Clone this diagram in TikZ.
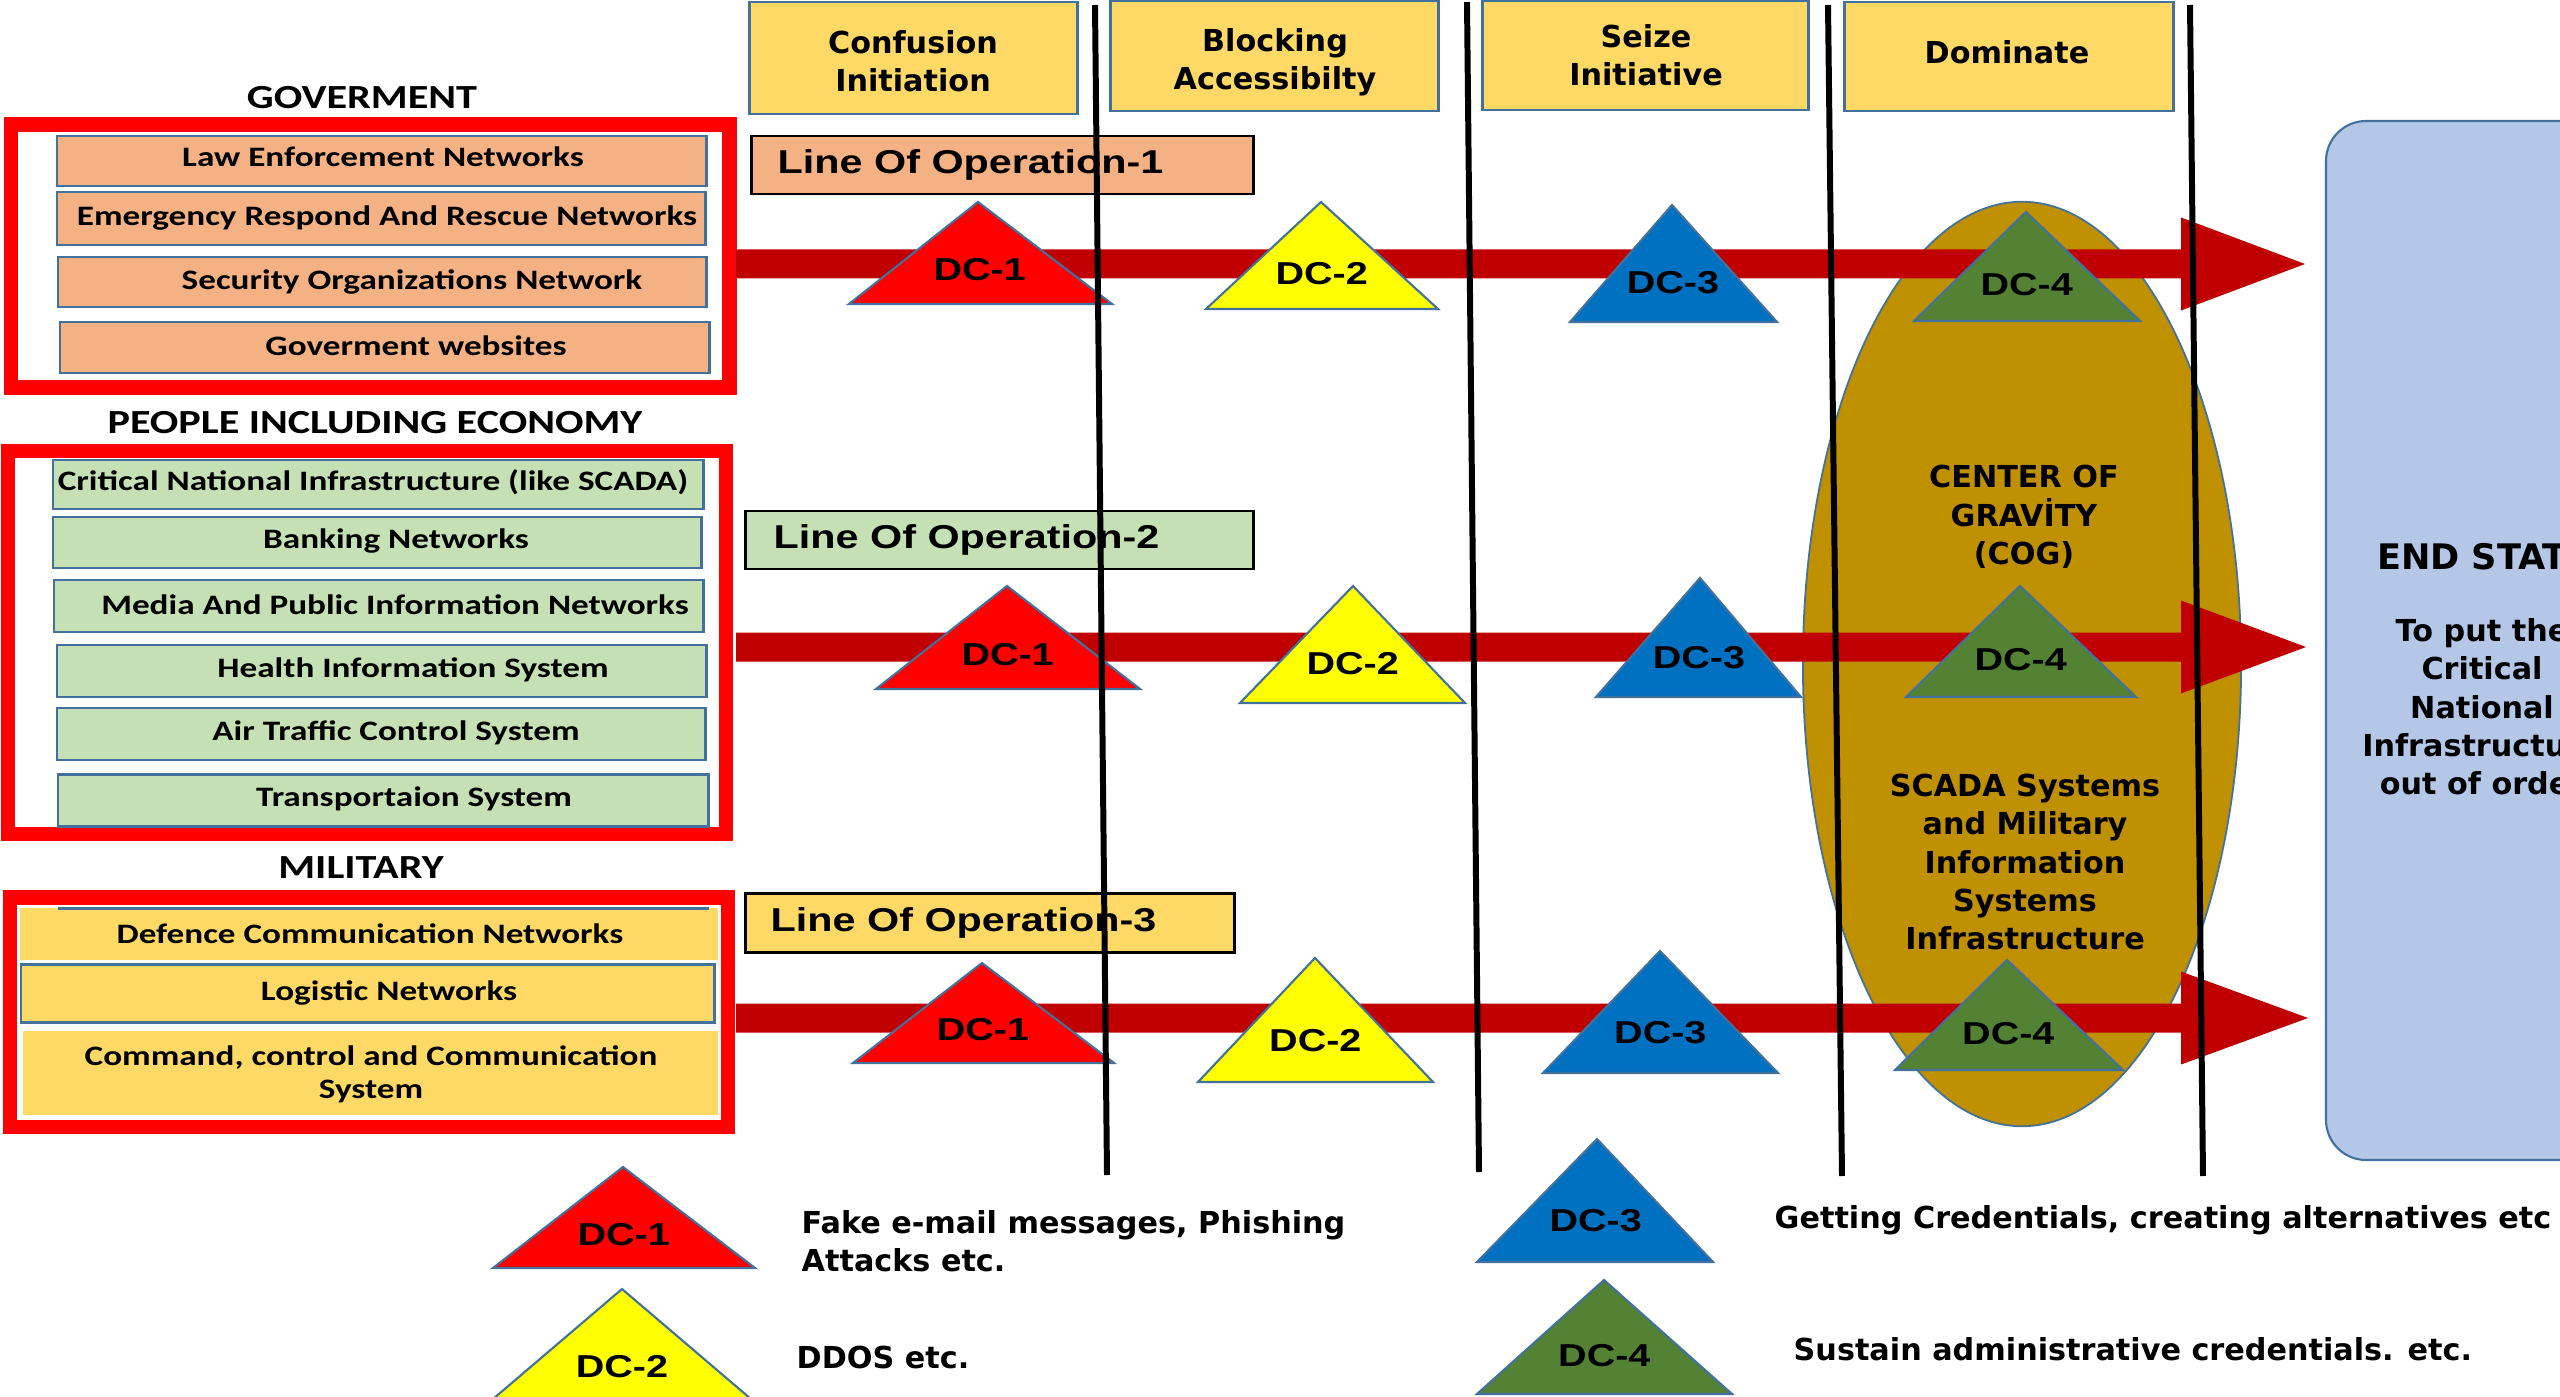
\documentclass[tikz,border=0pt]{standalone}
\usepackage{fontspec}
\setmainfont{DejaVu Sans}
\newfontfamily\calfont[FakeStretch=1.25]{Carlito}
\newfontfamily\arifont[FakeStretch=1.25]{Liberation Sans}
\usetikzlibrary{shapes.geometric}
\definecolor{orng}{HTML}{F4B183}
\definecolor{grn}{HTML}{C5E0B4}
\definecolor{ylw}{HTML}{FFD966}
\definecolor{bblue}{HTML}{41719C}
\definecolor{arrowred}{HTML}{C00000}
\definecolor{dcred}{HTML}{FF0000}
\definecolor{dcyellow}{HTML}{FFFF00}
\definecolor{dcblue}{HTML}{0070C0}
\definecolor{dcgreen}{HTML}{548235}
\definecolor{cog}{HTML}{BF9000}
\definecolor{endblue}{HTML}{B4C7E7}
\tikzset{
  netbox/.style={draw=bblue, line width=0.85pt, inner sep=0pt, outer sep=0pt},
  plainbox/.style={inner sep=0pt, outer sep=0pt},
  redframe/.style={draw=dcred, line width=4pt},
  phasebox/.style={draw=bblue, line width=0.85pt, fill=ylw, inner sep=0pt, outer sep=0pt},
  loobox/.style={draw=black, line width=0.85pt, inner sep=0pt, outer sep=0pt},
  tri/.style={draw=bblue, line width=0.6pt, line join=miter},
  vline/.style={draw=black, line width=1.7pt},
  nettext/.style={font=\calfont\bfseries\fontsize{8}{9.4}\selectfont, inner sep=0pt, align=center},
  grouptext/.style={font=\calfont\bfseries\fontsize{9.6}{11}\selectfont, inner sep=0pt},
  boldtext/.style={font=\bfseries\fontsize{8.6}{10.9}\selectfont, inner sep=0pt, align=center},
  legtext/.style={font=\bfseries\fontsize{8.6}{10.9}\selectfont, inner sep=0pt, align=left, anchor=west},
  lootext/.style={font=\arifont\bfseries\fontsize{9.4}{11}\selectfont, inner sep=0pt, anchor=west},
  dclabel/.style={font=\arifont\bfseries\fontsize{9}{10}\selectfont, inner sep=0pt},
}
% name, x1, y1, x2, y2, style
\newcommand\rectnode[6]{%
  \node[#6, minimum width={(#4-#2)*0.01cm}, minimum height={(#5-#3)*0.01cm}] (#1) at ({(#2+#4)/2},{(#3+#5)/2}) {};}
% name, apex x, apex y, base y, left x, right x, colour, label
\newcommand\dctri[8]{%
  \draw[tri, fill=#7] (#2,#3) -- (#6,#4) -- (#5,#4) -- cycle;
  \node[dclabel] (#1) at ({(#2+#5+#6)/3},{(#3+2*#4)/3}) {#8};}
% name, centre y, tip x
\newcommand\oparrow[3]{%
  \coordinate (#1s) at (736,#2);
  \coordinate (#1e) at (#3,#2);
  \fill[arrowred] (736,#2-14.5) -- (2181,#2-14.5) -- (2181,#2-46.5) -- (#3,#2)
     -- (2181,#2+46.5) -- (2181,#2+14.5) -- (736,#2+14.5) -- cycle;}
\begin{document}
\begin{tikzpicture}[x=0.01cm,y=-0.01cm]
\useasboundingbox (0,0) rectangle (2560,1397);
\clip (0,0) rectangle (2560,1397);
\fill[white] (0,0) rectangle (2560,1397);

% ---------- left column ----------
\node[grouptext] (hgov) at (362,98) {GOVERMENT};
\draw[redframe] (11,124.5) rectangle (729.5,387.5);
\rectnode{law}{57}{136}{706}{186}{netbox, fill=orng}
\rectnode{emr}{57}{192}{705}{245}{netbox, fill=orng}
\rectnode{sec}{58}{257}{706}{307}{netbox, fill=orng}
\rectnode{gws}{60}{322}{709}{373}{netbox, fill=orng}
\node[nettext] at (383,157) {Law Enforcement Networks};
\node[nettext] at (387,218) {Emergency Respond And Rescue Networks};
\node[nettext] at (412,282) {Security Organizations  Network};
\node[nettext] at (416,346) {Goverment websites};

\node[grouptext] (hppl) at (375,423) {PEOPLE INCLUDING ECONOMY};
\draw[redframe] (8,451) rectangle (726,834);
\rectnode{cni}{53}{460}{703}{509}{netbox, fill=grn}
\rectnode{bnk}{53}{517}{701}{568}{netbox, fill=grn}
\rectnode{med}{54}{580}{703}{632}{netbox, fill=grn}
\rectnode{hlt}{57}{645}{706}{697}{netbox, fill=grn}
\rectnode{atc}{57}{708}{705}{760}{netbox, fill=grn}
\rectnode{trn}{58}{774}{708}{826}{netbox, fill=grn}
\node[nettext] at (373,482) {Critical National  Infrastructure (like SCADA)};
\node[nettext] at (396,541) {Banking Networks};
\node[nettext] at (395,605) {Media And Public  Information Networks};
\node[nettext] at (413,670) {Health Information System};
\node[nettext] at (396,733) {Air Traffic Control System};
\node[nettext] at (414,799) {Transportaion System};

\node[grouptext] (hmil) at (361,868) {MILITARY};
\draw[redframe] (10,897.5) rectangle (728,1127);
\rectnode{dcn}{20}{908}{718}{960}{plainbox, fill=ylw}
\draw[bblue, line width=0.85pt] (58,908) -- (709,908);
\rectnode{lgn}{21}{964}{714}{1022}{netbox, fill=ylw}
\rectnode{ccs}{23}{1031}{718}{1115}{plainbox, fill=ylw}
\node[nettext] at (370,934) {Defence Communication Networks};
\node[nettext] at (389,993) {Logistic Networks};
\node[nettext] at (371,1074) {Command, control and  Communication\\System};

% ---------- phase boxes ----------
\rectnode{ph1}{749}{2}{1077}{114}{phasebox}
\rectnode{ph2}{1110}{1}{1438}{111}{phasebox}
\rectnode{ph3}{1482}{1}{1808}{110}{phasebox}
\rectnode{ph4}{1844}{2}{2173}{111}{phasebox}
\node[boldtext] at (913,61) {Confusion\\Initiation};
\node[boldtext] at (1275,62) {Blocking\\Accessibilty};
\node[boldtext] at (1646,55) {Seize\\Initiative};
\node[boldtext] at (2007,52) {Dominate};

% ---------- lines of operation ----------
\rectnode{loo1}{751}{136}{1253}{194}{loobox, fill=orng}
\rectnode{loo2}{745}{511}{1253}{569}{loobox, fill=grn}
\rectnode{loo3}{745}{893}{1234}{952}{loobox, fill=ylw}
\node[lootext] at (777,165) {Line Of Operation-1};
\node[lootext] at (773,540) {Line Of Operation-2};
\node[lootext] at (770,923) {Line Of Operation-3};

% ---------- centre of gravity ----------
\node[ellipse, draw=bblue, fill=cog, line width=0.5pt, inner sep=0pt,
      minimum width=4.38cm, minimum height=9.24cm] (cogell) at (2022,664) {};

% ---------- end state ----------
\rectnode{endst}{2326}{121}{2720}{1160}{draw=bblue, line width=0.6pt, fill=endblue, rounded corners=0.4cm}
\node[font=\bfseries\fontsize{10}{12}\selectfont, inner sep=0pt] at (2484,557) {END STATE};
\node[boldtext] at (2482,707) {To put the\\Critical\\National\\Infrastructure\\out of order};

% ---------- arrows ----------
\oparrow{a1}{264}{2305}
\oparrow{a2}{647}{2306}
\oparrow{a3}{1018}{2308}

% ---------- decisive condition triangles ----------
\dctri{r1c1}{978}{202}{304}{849}{1112}{dcred}{DC-1}
\dctri{r1c2}{1321}{202}{309}{1206}{1438}{dcyellow}{DC-2}
\dctri{r1c3}{1672}{205}{322}{1570}{1777}{dcblue}{DC-3}
\dctri{r1c4}{2026}{212}{321}{1914}{2140}{dcgreen}{DC-4}

\dctri{r2c1}{1007}{586}{689}{876}{1140}{dcred}{DC-1}
\dctri{r2c2}{1353}{586}{703}{1240}{1465}{dcyellow}{DC-2}
\dctri{r2c3}{1700}{578}{697}{1596}{1801}{dcblue}{DC-3}
\dctri{r2c4}{2020}{586}{697}{1906}{2136}{dcgreen}{DC-4}

\dctri{r3c1}{982}{963}{1063}{853}{1114}{dcred}{DC-1}
\dctri{r3c2}{1315}{958}{1082}{1198}{1433}{dcyellow}{DC-2}
\dctri{r3c3}{1660}{951}{1073}{1543}{1778}{dcblue}{DC-3}
\dctri{r3c4}{2007}{960}{1070}{1895}{2123}{dcgreen}{DC-4}

% ---------- COG texts ----------
\node[boldtext] (cogt) at (2024,517) {CENTER OF\\GRAVİTY\\(COG)};
\node[boldtext] (scada) at (2025,862) {SCADA Systems\\and Military\\Information\\Systems\\Infrastructure};

% ---------- phase separators ----------
\draw[vline] (1095,5) -- (1107,1175);
\draw[vline] (1467,2) -- (1479,1172);
\draw[vline] (1828,5) -- (1842,1176);
\draw[vline] (2190,5) -- (2203,1176);

% ---------- legend ----------
\dctri{l1}{623}{1167}{1268}{493}{755}{dcred}{DC-1}
\dctri{l2}{622}{1289}{1405}{486}{758}{dcyellow}{DC-2}
\dctri{l3}{1597}{1139}{1262}{1477}{1713}{dcblue}{DC-3}
\dctri{l4}{1604}{1280}{1394}{1477}{1732}{dcgreen}{DC-4}
\node[legtext] (lt1) at (801,1241) {Fake e-mail messages, Phishing\\Attacks etc.};
\node[legtext] (lt2) at (796,1357) {DDOS etc.};
\node[legtext] (lt3) at (1774,1220) {Getting Credentials, creating alternatives etc};
\node[legtext] (lt4) at (1793,1349) {Sustain administrative credentials. etc.};
\end{tikzpicture}
\end{document}
